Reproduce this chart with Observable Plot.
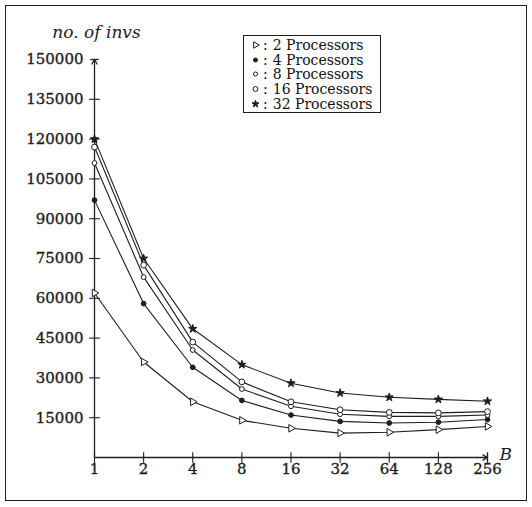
<!DOCTYPE html>
<html>
<head>
<meta charset="utf-8">
<script src="https://cdn.jsdelivr.net/npm/d3@7"></script>
<script src="https://cdn.jsdelivr.net/npm/@observablehq/plot@0.6"></script>
<style>
  body { margin: 0; background: #fff; }
  #wrap { position: relative; width: 532px; height: 507px; overflow: hidden; }
  #frame { position: absolute; left: 5px; top: 5px; width: 522px; height: 496px;
           border: 1.6px solid #1e1e1e; box-sizing: border-box; pointer-events: none; }
  #legend { position: absolute; left: 243px; top: 35px; width: 138px; height: 78px;
            border: 1.2px solid #1e1e1e; box-sizing: border-box; background: #fff;
            font-family: "DejaVu Serif", serif; font-size: 14px; color: #111;
            padding: 2px 0 0 7px; }
  #legend .row { display: flex; align-items: center; white-space: nowrap; height: 14.6px; }
  #legend svg { width: 9px; height: 10px; margin-right: 3px; flex: none; }
  #legend .colon { margin-right: 5px; }
</style>
</head>
<body>
<div id="wrap">
  <div id="chart"></div>
  <div id="legend"></div>
  <div id="frame"></div>
</div>
<script>
// Block size B (x axis, powers of two)
const blockSizes = [1, 2, 4, 8, 16, 32, 64, 128, 256];

// Number of invocations per processor count
const procs2  = [62000, 36000, 21000, 14000, 11000, 9200, 9500, 10500, 11700];
const procs4  = [97000, 58000, 34000, 21500, 16000, 13600, 13000, 13300, 14300];
const procs8  = [111000, 68000, 40500, 25800, 19300, 16300, 15500, 15500, 16000];
const procs16 = [117000, 72500, 43500, 28500, 21000, 18000, 17000, 16800, 17300];
const procs32 = [120000, 75000, 48500, 35000, 28000, 24300, 22700, 21900, 21200];

const seriesNames = ["2 Processors", "4 Processors", "8 Processors", "16 Processors", "32 Processors"];
const seriesValues = [procs2, procs4, procs8, procs16, procs32];

// Y tick labels
const yTicks = [15000, 30000, 45000, 60000, 75000, 90000, 105000, 120000, 135000, 150000];
const yMax = 150000;

const ink = "#1e1e1e";
const serif = "'DejaVu Serif', serif";

// Short cross-axis tick glyphs
const hBar = { draw(ctx, size) { const r = Math.sqrt(size); ctx.moveTo(-r, 0); ctx.lineTo(r, 0); } };
const vBar = { draw(ctx, size) { const r = Math.sqrt(size); ctx.moveTo(0, -r); ctx.lineTo(0, r); } };

// Marker styles for each series
const markerStyles = [
  { symbol: d3.symbolTriangle, rotate: 90, fill: "white", r: 2.8 },
  { symbol: "circle", fill: ink, r: 2.4 },
  { symbol: "circle", fill: "white", r: 2.4 },
  { symbol: "circle", fill: "white", r: 2.9 },
  { symbol: "star", fill: ink, r: 2.6 }
];

const rows = seriesNames.flatMap((name, i) =>
  blockSizes.map((b, j) => ({ series: name, B: b, invs: seriesValues[i][j] })));

const seriesMarks = seriesNames.flatMap((name, i) => {
  const data = rows.filter(d => d.series === name);
  const s = markerStyles[i];
  return [
    Plot.line(data, { x: "B", y: "invs", stroke: ink, strokeWidth: 1.1 }),
    Plot.dot(data, { x: "B", y: "invs", symbol: s.symbol, r: s.r, fill: s.fill,
                     stroke: ink, strokeWidth: 1, rotate: s.rotate || 0 })
  ];
});

const xMin = blockSizes[0], xMax = blockSizes[blockSizes.length - 1];

const chart = Plot.plot({
  width: 532,
  height: 507,
  marginLeft: 94,
  marginRight: 45,
  marginTop: 59,
  marginBottom: 50,
  x: { type: "log", base: 2, domain: [xMin, xMax], axis: null },
  y: { domain: [0, yMax], axis: null },
  style: { fontFamily: serif, fontSize: "15px", background: "transparent", color: ink },
  marks: [
    // axes with arrowheads
    Plot.arrow([{ x1: xMin, y1: 0, x2: xMax, y2: 0 }],
      { x1: "x1", y1: "y1", x2: "x2", y2: "y2", stroke: ink, strokeWidth: 1.3, headLength: 6, bend: 0 }),
    Plot.arrow([{ x1: xMin, y1: 0, x2: xMin, y2: yMax }],
      { x1: "x1", y1: "y1", x2: "x2", y2: "y2", stroke: ink, strokeWidth: 1.3, headLength: 6, bend: 0 }),
    // end bars
    Plot.dot([xMax], { x: d => d, y: () => 0, symbol: vBar, r: 2.4, stroke: ink, strokeWidth: 1.3 }),
    Plot.dot([yMax], { x: () => xMin, y: d => d, symbol: hBar, r: 2.4, stroke: ink, strokeWidth: 1.3 }),
    // crossing ticks
    Plot.dot(yTicks.slice(0, -1), { x: () => xMin, y: d => d, symbol: hBar, r: 3, stroke: ink, strokeWidth: 1.1 }),
    Plot.dot(blockSizes, { x: d => d, y: () => 0, symbol: vBar, r: 3, stroke: ink, strokeWidth: 1.1 }),
    // tick labels
    Plot.text(yTicks, { x: () => xMin, y: d => d, text: d => String(d), textAnchor: "end", dx: -11,
                        fill: ink, stroke: ink, strokeWidth: 0.35 }),
    Plot.text(blockSizes, { x: d => d, y: () => 0, text: d => String(d), dy: 12,
                        fill: ink, stroke: ink, strokeWidth: 0.35 }),
    // axis titles
    Plot.text(["B"], { x: () => xMax, y: () => 0, text: d => d, textAnchor: "start", dx: 12, dy: -3,
                       fontStyle: "italic", fontSize: 17, fill: ink }),
    Plot.text(["no. of invs"], { x: () => xMin, y: () => yMax, text: d => d, dy: -27, dx: 2,
                       fontStyle: "italic", fontSize: 17, fill: ink, letterSpacing: 1 }),
    ...seriesMarks
  ]
});
document.getElementById("chart").append(chart);

// Legend
const legend = d3.select("#legend");
seriesNames.forEach((name, i) => {
  const s = markerStyles[i];
  const row = legend.append("div").attr("class", "row");
  const svg = row.append("svg").attr("viewBox", "-4.5 -5 9 10");
  const type = typeof s.symbol === "string"
    ? (s.symbol === "star" ? d3.symbolStar : d3.symbolCircle) : s.symbol;
  svg.append("path")
    .attr("d", d3.symbol(type, Math.PI * (s.r * 0.85) ** 2)())
    .attr("transform", `rotate(${s.rotate || 0})`)
    .attr("fill", s.fill).attr("stroke", ink).attr("stroke-width", 1);
  row.append("span").attr("class", "colon").text(":");
  row.append("span").text(name);
});
</script>
</body>
</html>
